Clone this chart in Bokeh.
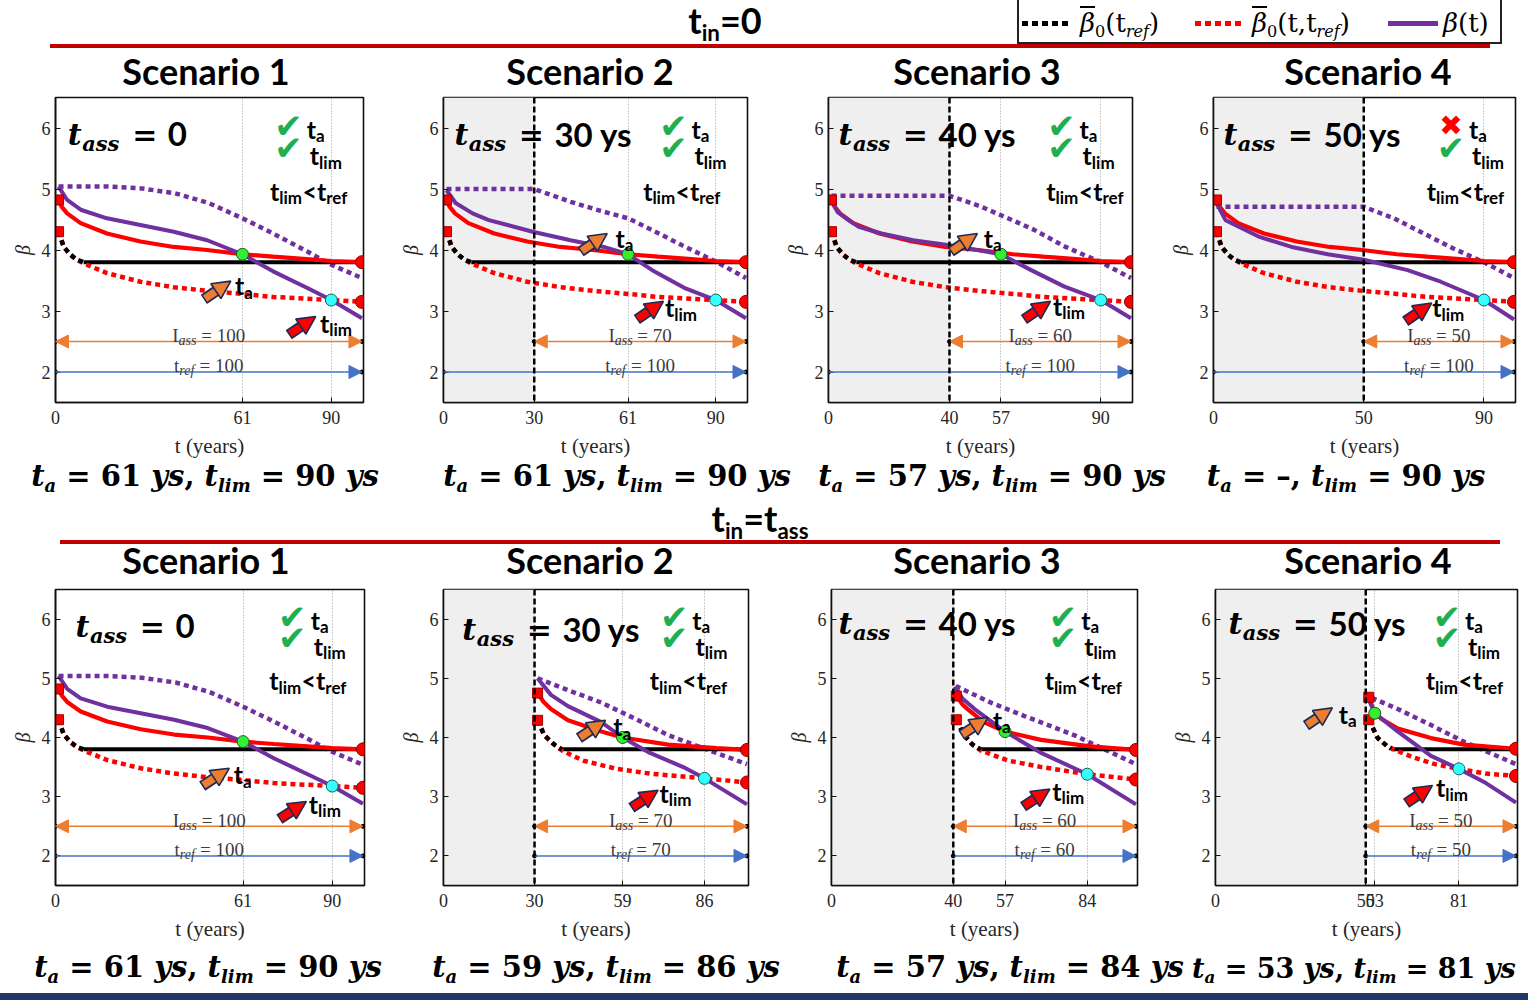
from bokeh.plotting import figure
from bokeh.layouts import row, column
from bokeh.models import Div, Label, Arrow, NormalHead, Span, BoxAnnotation, FixedTicker, Range1d
from bokeh.embed import file_html
from bokeh.resources import INLINE

# ------------------------------------------------------------------ data
scenarios = ["Scenario 1", "Scenario 2", "Scenario 3", "Scenario 4"]
t_ass = [0, 30, 40, 50]
t_end = 100

top_xticks = [[0, 61, 90], [0, 30, 61, 90], [0, 40, 57, 90], [0, 50, 90]]
bot_xticks = [[0, 61, 90], [0, 30, 59, 86], [0, 40, 57, 84], [0, 50, 53, 81]]
y_ticks = [2, 3, 4, 5, 6]

top_ta = [61, 61, 57, None]
top_ta_beta = [3.93, 3.93, 3.93, None]
top_tlim = [90, 90, 90, 90]
top_tlim_beta = [3.18, 3.18, 3.18, 3.18]
top_ta_ok = [True, True, True, False]
bot_ta = [61, 59, 57, 53]
bot_ta_beta = [3.93, 4.00, 4.10, 4.41]
bot_tlim = [90, 86, 84, 81]
bot_tlim_beta = [3.18, 3.31, 3.38, 3.47]

top_I_ass = [100, 70, 60, 50]
top_t_ref = [100, 100, 100, 100]
bot_I_ass = [100, 70, 60, 50]
bot_t_ref = [100, 70, 60, 50]

# top row (t_in = 0): reference curves shared by the four scenarios
top_red_t = [1, 2, 3.8, 8.2, 16.8, 27.7, 38.6, 49.5, 61, 71, 82, 90, 100]
top_red_b = [4.82, 4.71, 4.60, 4.44, 4.27, 4.14, 4.05, 4.00, 3.93, 3.89, 3.85, 3.82, 3.80]
top_blkdot_t = [1, 2.7, 4.9, 7, 9.2]
top_blkdot_b = [4.30, 4.05, 3.92, 3.84, 3.80]
top_blk_t = [9.2, 100]
top_blk_b = [3.80, 3.80]
top_reddot_t = [1, 2.7, 4.9, 7, 9.2, 16.8, 27.7, 38.6, 49.5, 61, 71, 90, 100]
top_reddot_b = [4.30, 4.05, 3.92, 3.84, 3.78, 3.62, 3.48, 3.39, 3.33, 3.28, 3.23, 3.18, 3.15]

top_pur1_t = [1, 3.8, 8.2, 16.8, 27.7, 38.6, 49.5, 61, 71, 82, 90, 100]
top_pur1_b = [5.04, 4.82, 4.66, 4.52, 4.41, 4.30, 4.16, 3.93, 3.65, 3.38, 3.18, 2.88]
top_pur2_t = [1, 4, 9.6, 15, 29.5, 42, 53, 61, 69, 80, 90, 100]
top_pur2_b = [4.98, 4.77, 4.60, 4.49, 4.30, 4.16, 4.05, 3.93, 3.67, 3.37, 3.18, 2.88]
top_pur3_t = [1, 3, 6.6, 10, 17.5, 28, 40, 57, 67, 78, 90, 100]
top_pur3_b = [4.82, 4.62, 4.49, 4.38, 4.27, 4.16, 4.08, 3.93, 3.67, 3.40, 3.18, 2.88]
top_pur4_t = [1, 4, 15, 26, 38, 50, 64.6, 75.6, 90, 100]
top_pur4_b = [4.77, 4.49, 4.22, 4.05, 3.93, 3.84, 3.67, 3.48, 3.18, 2.86]

top_purdot1_t = [1, 10, 17, 28, 39, 50, 61, 71, 82, 89, 100]
top_purdot1_b = [5.04, 5.04, 5.04, 5.01, 4.93, 4.77, 4.52, 4.27, 3.98, 3.78, 3.54]
top_purdot2_t = [1, 30, 42, 52, 61, 70, 80, 90, 100]
top_purdot2_b = [5.00, 5.00, 4.79, 4.64, 4.52, 4.30, 4.05, 3.81, 3.54]
top_purdot3_t = [1, 40, 50, 57, 68, 78, 90, 100]
top_purdot3_b = [4.89, 4.89, 4.72, 4.57, 4.33, 4.06, 3.80, 3.54]
top_purdot4_t = [1, 50, 60, 70, 80, 90, 100]
top_purdot4_b = [4.71, 4.71, 4.52, 4.27, 4.02, 3.80, 3.54]

# bottom row (t_in = t_ass), scenarios 2-4 (scenario 1 equals the top one)
bot2_red_t = [31, 33, 35.4, 41, 52, 59, 74, 90, 100]
bot2_red_b = [4.75, 4.60, 4.48, 4.29, 4.10, 4.00, 3.88, 3.82, 3.79]
bot2_blkdot_t = [31, 33.2, 36.5, 39]
bot2_blkdot_b = [4.29, 4.04, 3.88, 3.80]
bot2_blk_t = [39, 100]
bot2_blk_b = [3.80, 3.80]
bot2_reddot_t = [31, 33.2, 36.5, 39, 46, 57, 68, 86, 100]
bot2_reddot_b = [4.29, 4.04, 3.88, 3.78, 3.61, 3.47, 3.39, 3.31, 3.24]
bot2_pur_t = [31, 35.4, 41, 52, 59, 68, 79, 86, 100]
bot2_pur_b = [5.00, 4.72, 4.53, 4.26, 4.00, 3.74, 3.50, 3.31, 2.87]
bot2_purdot_t = [31, 41, 52, 63, 74, 85, 100]
bot2_purdot_b = [5.00, 4.80, 4.59, 4.32, 4.04, 3.83, 3.55]

bot3_red_t = [41, 43, 44.7, 50, 57, 68.8, 85, 100]
bot3_red_b = [4.70, 4.56, 4.48, 4.26, 4.10, 3.96, 3.85, 3.79]
bot3_blkdot_t = [41, 43.6, 46.3, 49]
bot3_blkdot_b = [4.30, 4.04, 3.88, 3.80]
bot3_blk_t = [49, 100]
bot3_blk_b = [3.80, 3.80]
bot3_reddot_t = [41, 43.6, 46.3, 49, 58, 69, 84, 100]
bot3_reddot_b = [4.30, 4.04, 3.88, 3.78, 3.61, 3.50, 3.38, 3.29]
bot3_pur_t = [40.5, 43, 47, 57, 68.8, 84, 100]
bot3_pur_b = [4.86, 4.66, 4.48, 4.10, 3.74, 3.38, 2.87]
bot3_purdot_t = [40.8, 52.3, 63, 79.7, 100]
bot3_purdot_b = [4.87, 4.59, 4.37, 4.04, 3.55]

bot4_red_t = [51, 52.5, 55, 60.7, 71.7, 82.6, 100]
bot4_red_b = [4.68, 4.48, 4.32, 4.15, 3.99, 3.88, 3.81]
bot4_blkdot_t = [51, 54, 57, 58.5]
bot4_blkdot_b = [4.30, 3.99, 3.86, 3.81]
bot4_blk_t = [58.5, 100]
bot4_blk_b = [3.80, 3.80]
bot4_reddot_t = [51, 54, 57, 59.3, 66, 73, 81, 90, 100]
bot4_reddot_b = [4.30, 3.99, 3.86, 3.80, 3.66, 3.55, 3.47, 3.39, 3.35]
bot4_pur_t = [51, 53, 60.7, 71.7, 81, 90, 100]
bot4_pur_b = [4.64, 4.41, 4.10, 3.69, 3.47, 3.23, 2.90]
bot4_purdot_t = [52, 60.7, 71.7, 82.6, 100]
bot4_purdot_b = [4.67, 4.48, 4.21, 3.93, 3.55]

# ------------------------------------------------------------------ styles
RED = "#ff0000"
PURPLE = "#7030a0"
ORANGE = "#ed7d31"
BLUE = "#4472c4"
NAVY = "#1c2a55"
GREEN = "#1fae50"
DJS = "DejaVu Serif"
LATO = "Lato"
LIB = "Liberation Serif"


def _tab(d, dw):
    t = dict(d)
    for k in "0123456789":
        t[k] = dw
    return t


WID = {
    LATO: (_tab({'t': .37, 'a': .51, 'l': .26, 'i': .26, 'm': .84, 'r': .37, 'e': .52, 'f': .33,
                 '<': .58, ' ': .19, 'y': .52, 's': .42, '=': .58}, .58), .55),
    DJS: (_tab({'t': .48, 'a': .68, 's': .60, ' ': .35, '=': .84, 'y': .65, ',': .38, 'l': .34,
                'i': .34, 'm': 1.04}, .70), .70),
    LIB: (_tab({'I': .333, 'a': .5, 's': .389, 'r': .389, 'e': .444, 'f': .278, 't': .278,
                ' ': .25, '=': .564}, .5), .5),
}


def tw(text, font, size):
    tab, d = WID[font]
    return sum(tab.get(ch, d) for ch in text) * size


def rich(p, x, y, parts, align="left"):
    widths = [tw(t, f, s) for t, f, s, st, dy, col in parts]
    off = -sum(widths) / 2 if align == "center" else 0.0
    for (t, f, s, st, dy, col), w in zip(parts, widths):
        lead = tw(t[:len(t) - len(t.lstrip())], f, s)
        p.add_layout(Label(x=x, y=y, x_offset=off + lead, y_offset=dy, text=t.strip(),
                           text_font=f, text_font_size=f"{s}px", text_font_style=st,
                           text_color=col, text_baseline="alphabetic", text_align="left"))
        off += w


def make_plot(w, h, bl, br, bt, bb, xticks):
    p = figure(width=w, height=h, x_range=Range1d(0, 100.5), y_range=Range1d(1.5, 6.5),
               output_backend="svg", toolbar_location=None,
               min_border_left=bl, min_border_right=br, min_border_top=bt, min_border_bottom=bb)
    p.background_fill_color = "white"
    p.border_fill_color = "white"
    p.outline_line_color = "#111111"
    p.outline_line_width = 1.6
    p.ygrid.visible = False
    p.xgrid.ticker = FixedTicker(ticks=xticks)
    p.xgrid.grid_line_color = "#9a9a9a"
    p.xgrid.grid_line_dash = "1 2"
    p.xgrid.grid_line_width = 1
    p.xaxis.ticker = FixedTicker(ticks=xticks)
    p.yaxis.ticker = FixedTicker(ticks=y_ticks)
    for ax in (p.xaxis[0], p.yaxis[0]):
        ax.major_tick_in = 5
        ax.major_tick_out = 0
        ax.minor_tick_line_color = None
        ax.axis_line_color = "#111111"
        ax.axis_line_width = 1.6
        ax.major_tick_line_color = "#111111"
        ax.major_label_text_font = LIB
        ax.major_label_text_font_size = "18px"
        ax.major_label_text_color = "#262626"
        ax.major_label_standoff = 5
        ax.axis_label_text_font = LIB
        ax.axis_label_text_font_size = "21px"
        ax.axis_label_text_color = "#262626"
        ax.axis_label_text_font_style = "normal"
    p.xaxis.major_label_standoff = 8
    p.xaxis.axis_label = "t (years)"
    p.xaxis.axis_label_standoff = 7
    p.yaxis.axis_label = "β"
    p.yaxis.axis_label_standoff = 5
    p.yaxis.axis_label_text_font_style = "italic"
    p.yaxis.axis_label_text_font_size = "20px"
    return p


def block_arrow(p, t, b, color):
    dt, db = 4.4, 0.15
    x0, y0, x1, y1 = t - dt, b - db, t + dt, b + db
    xm, ym = t + 0.9, b + 0.03
    p.add_layout(Arrow(end=None, x_start=x0, y_start=y0, x_end=xm, y_end=ym,
                       line_color=NAVY, line_width=11))
    p.add_layout(Arrow(end=None, x_start=x0 + 0.4, y_start=y0 + 0.014, x_end=xm, y_end=ym,
                       line_color=color, line_width=7.5))
    p.add_layout(Arrow(end=NormalHead(size=18, fill_color=color, line_color=NAVY, line_width=1.6),
                       x_start=x0, y_start=y0, x_end=x1, y_end=y1, line_alpha=0))


def draw_panel(p, s, ann):
    ta_s = s["tass"]
    if ta_s > 0:
        p.add_layout(BoxAnnotation(left=0, right=ta_s, fill_color="#efefef", fill_alpha=1,
                                   line_color=None, level="underlay"))
    # curves
    p.line(*s["purdot"], line_color=PURPLE, line_width=4.5, line_dash="5 4")
    p.line(*s["blk"], line_color="black", line_width=4)
    p.line(*s["reddot"], line_color=RED, line_width=4.5, line_dash="5 4")
    p.line(*s["blkdot"], line_color="black", line_width=4.5, line_dash="5 4")
    p.line(*s["red"], line_color=RED, line_width=4.2)
    p.line(*s["pur"], line_color=PURPLE, line_width=4)
    # end markers
    rt, rb = s["red"]
    kt, kb = s["blkdot"]
    dt_, db_ = s["reddot"]
    p.scatter([rt[0], kt[0]], [rb[0], kb[0]], marker="square", size=10,
              fill_color=RED, line_color="#a00000")
    p.scatter([rt[-1], dt_[-1]], [rb[-1], db_[-1]], marker="circle", size=13,
              fill_color=RED, line_color="#8b0000")
    if s["ta"] is not None:
        p.scatter([s["ta"]], [s["ta_b"]], marker="circle", size=12,
                  fill_color="#33ee33", line_color="#1a5e1a")
    p.scatter([s["tlim"]], [s["tlim_b"]], marker="circle", size=12,
              fill_color="#33ffff", line_color="#1a5e5e")

    # interval arrows
    p.add_layout(Arrow(start=NormalHead(size=13, fill_color=ORANGE, line_color=ORANGE),
                       end=NormalHead(size=13, fill_color=ORANGE, line_color=ORANGE),
                       x_start=ta_s, y_start=2.5, x_end=t_end, y_end=2.5,
                       line_color=ORANGE, line_width=1.5))
    p.add_layout(Arrow(end=NormalHead(size=13, fill_color=BLUE, line_color=BLUE),
                       x_start=s["tref_start"], y_start=2, x_end=t_end, y_end=2,
                       line_color=BLUE, line_width=1.5))
    p.scatter([ta_s, t_end, s["tref_start"], t_end], [2.5, 2.5, 2, 2], size=4,
              color="black")
    mid = (ta_s + t_end) / 2
    gray = "#3c3c3c"
    rich(p, mid, 2.6, [("I", LIB, 19, "normal", 0, gray), ("ass", LIB, 14, "italic", -5, gray),
                       (f" = {s['I']}", LIB, 19, "normal", 0, gray)], align="center")
    rich(p, mid, 2.1, [("t", LIB, 19, "normal", 0, gray), ("ref", LIB, 14, "italic", -5, gray),
                       (f" = {s['tref']}", LIB, 19, "normal", 0, gray)], align="center")

    # t_ass label
    lx, ly = ann["tass_lbl"]
    parts = [("t", DJS, 30, "bold italic", 0, "black"), ("ass", DJS, 21, "bold italic", -9, "black"),
             (" = ", DJS, 30, "bold", 0, "black")]
    parts.append((("0" if ta_s == 0 else f"{ta_s} ys"), LATO, 33, "bold", 0, "black"))
    rich(p, lx, ly, parts)
    if ta_s > 0:
        p.add_layout(Span(location=ta_s, dimension="height", line_color="black",
                          line_dash="6 3", line_width=2.5))

    # check marks
    ct = ann["check_t"]
    if s["ok"]:
        mark, mcol, msize = "✔", GREEN, "34px"
    else:
        mark, mcol, msize = "✖", RED, "28px"
    p.add_layout(Label(x=ct, y=6.04, text=mark, text_font="DejaVu Sans", text_font_size=msize,
                       text_color=mcol, text_align="center", text_baseline="middle"))
    p.add_layout(Label(x=ct, y=5.68, text="✔", text_font="DejaVu Sans", text_font_size="34px",
                       text_color=GREEN, text_align="center", text_baseline="middle"))
    rich(p, ct + 6, 5.99, [("t", LATO, 25, "bold", 0, "black"), ("a", LATO, 17, "bold", -7, "black")])
    rich(p, ct + 7, 5.55, [("t", LATO, 25, "bold", 0, "black"), ("lim", LATO, 17, "bold", -7, "black")])
    rich(p, ann["lt"], 4.97, [("t", LATO, 25, "bold", 0, "black"), ("lim", LATO, 17, "bold", -7, "black"),
                              ("<t", LATO, 25, "bold", 0, "black"), ("ref", LATO, 17, "bold", -7, "black")])

    # pointer arrows and labels
    if ann["ta_arrow"] is not None:
        block_arrow(p, *ann["ta_arrow"], ORANGE)
        rich(p, *ann["ta_lbl"], [("t", LATO, 25, "bold", 0, "black"), ("a", LATO, 17, "bold", -7, "black")])
    block_arrow(p, *ann["tl_arrow"], RED)
    rich(p, *ann["tl_lbl"], [("t", LATO, 25, "bold", 0, "black"), ("lim", LATO, 17, "bold", -7, "black")])


top_pur = [(top_pur1_t, top_pur1_b), (top_pur2_t, top_pur2_b), (top_pur3_t, top_pur3_b), (top_pur4_t, top_pur4_b)]
top_purdot = [(top_purdot1_t, top_purdot1_b), (top_purdot2_t, top_purdot2_b),
              (top_purdot3_t, top_purdot3_b), (top_purdot4_t, top_purdot4_b)]

top_specs = []
for i in range(4):
    top_specs.append(dict(tass=t_ass[i], red=(top_red_t, top_red_b), blkdot=(top_blkdot_t, top_blkdot_b),
                          blk=(top_blk_t, top_blk_b), reddot=(top_reddot_t, top_reddot_b),
                          pur=top_pur[i], purdot=top_purdot[i], ta=top_ta[i], ta_b=top_ta_beta[i],
                          tlim=top_tlim[i], tlim_b=top_tlim_beta[i], tref_start=0,
                          I=top_I_ass[i], tref=top_t_ref[i], ok=top_ta_ok[i]))

bot_curves = [
    dict(red=(top_red_t, top_red_b), blkdot=(top_blkdot_t, top_blkdot_b), blk=(top_blk_t, top_blk_b),
         reddot=(top_reddot_t, top_reddot_b), pur=top_pur[0], purdot=top_purdot[0]),
    dict(red=(bot2_red_t, bot2_red_b), blkdot=(bot2_blkdot_t, bot2_blkdot_b), blk=(bot2_blk_t, bot2_blk_b),
         reddot=(bot2_reddot_t, bot2_reddot_b), pur=(bot2_pur_t, bot2_pur_b), purdot=(bot2_purdot_t, bot2_purdot_b)),
    dict(red=(bot3_red_t, bot3_red_b), blkdot=(bot3_blkdot_t, bot3_blkdot_b), blk=(bot3_blk_t, bot3_blk_b),
         reddot=(bot3_reddot_t, bot3_reddot_b), pur=(bot3_pur_t, bot3_pur_b), purdot=(bot3_purdot_t, bot3_purdot_b)),
    dict(red=(bot4_red_t, bot4_red_b), blkdot=(bot4_blkdot_t, bot4_blkdot_b), blk=(bot4_blk_t, bot4_blk_b),
         reddot=(bot4_reddot_t, bot4_reddot_b), pur=(bot4_pur_t, bot4_pur_b), purdot=(bot4_purdot_t, bot4_purdot_b)),
]
bot_specs = []
for i in range(4):
    d = dict(bot_curves[i])
    d.update(tass=t_ass[i], ta=bot_ta[i], ta_b=bot_ta_beta[i], tlim=bot_tlim[i], tlim_b=bot_tlim_beta[i],
             tref_start=t_ass[i], I=bot_I_ass[i], tref=bot_t_ref[i], ok=True)
    bot_specs.append(d)

TOP_ANN = [
    dict(tass_lbl=(4, 5.9), check_t=76, lt=70, ta_arrow=(52.8, 3.34), ta_lbl=(58.6, 3.42), tl_arrow=(80.5, 2.76), tl_lbl=(86.3, 2.81)),
    dict(tass_lbl=(3.6, 5.9), check_t=76, lt=66, ta_arrow=(49.7, 4.12), ta_lbl=(56.9, 4.2), tl_arrow=(68.3, 3.01), tl_lbl=(73.2, 3.06)),
    dict(tass_lbl=(3.3, 5.9), check_t=77, lt=72, ta_arrow=(44.8, 4.12), ta_lbl=(51.3, 4.2), tl_arrow=(69, 3.01), tl_lbl=(74.2, 3.09)),
    dict(tass_lbl=(3.3, 5.9), check_t=79, lt=71, ta_arrow=None, ta_lbl=None, tl_arrow=(68.2, 2.98), tl_lbl=(72.8, 3.06)),
]
BOT_ANN = [
    dict(tass_lbl=(6.5, 5.88), check_t=77, lt=69.5, ta_arrow=(52.1, 3.33), ta_lbl=(58, 3.38), tl_arrow=(77.2, 2.77), tl_lbl=(82.4, 2.88)),
    dict(tass_lbl=(6.2, 5.83), check_t=76, lt=68, ta_arrow=(49, 4.14), ta_lbl=(55.9, 4.19), tl_arrow=(66.3, 2.96), tl_lbl=(71.2, 3.07)),
    dict(tass_lbl=(2.3, 5.93), check_t=76, lt=70, ta_arrow=(47, 4.19), ta_lbl=(53, 4.3), tl_arrow=(67.3, 2.98), tl_lbl=(72.5, 3.1)),
    dict(tass_lbl=(4.3, 5.93), check_t=77, lt=70, ta_arrow=(34.5, 4.35), ta_lbl=(41, 4.4), tl_arrow=(67.8, 3.04), tl_lbl=(73.4, 3.16)),
]

# (width, border left, right, top, bottom)
TOP_H = 370
TOP_GEOM = [(396, 55, 33, 7, 58), (385, 45, 34, 7, 58), (385, 45, 34, 7, 58), (362, 44, 13, 7, 58)]
BOT_H = 372
BOT_GEOM = [(396, 55, 32, 2, 65), (386, 46, 34, 9, 58), (386, 49, 31, 9, 58), (360, 44, 11, 11, 56)]

top_figs = []
for i in range(4):
    w, bl, br, bt, bb = TOP_GEOM[i]
    p = make_plot(w, TOP_H, bl, br, bt, bb, top_xticks[i])
    draw_panel(p, top_specs[i], TOP_ANN[i])
    top_figs.append(p)

bot_figs = []
for i in range(4):
    w, bl, br, bt, bb = BOT_GEOM[i]
    p = make_plot(w, BOT_H, bl, br, bt, bb, bot_xticks[i])
    draw_panel(p, bot_specs[i], BOT_ANN[i])
    bot_figs.append(p)

# ------------------------------------------------------------------ html bands
SUB = '<sub style="font-size:0.62em;vertical-align:-0.32em;line-height:0">'
BAR = '<i style="text-decoration:overline;">β</i>'


def atext(x, top, html, size, family=LATO, weight=700, style="normal", align="center", color="#000"):
    if align == "center":
        pos = f"left:{x - 400}px;width:800px;text-align:center;"
    else:
        pos = f"left:{x}px;"
    return (f'<div style="position:absolute;{pos}top:{top}px;white-space:nowrap;line-height:1;'
            f"font-family:'{family}';font-size:{size}px;font-weight:{weight};font-style:{style};"
            f'color:{color};">{html}</div>')


def rect(left, top, w, h, bg, extra=""):
    return f'<div style="position:absolute;left:{left}px;top:{top}px;width:{w}px;height:{h}px;background:{bg};{extra}"></div>'


def dots(left, top, color):
    return rect(left, top, 50, 5, f"repeating-linear-gradient(90deg,{color} 0px,{color} 6px,transparent 6px,transparent 10px)")


def band(w, h, items):
    html = (f'<div style="position:relative;width:{w}px;height:{h}px;">'
            + "".join(items) + "</div>")
    return Div(text=html, width=w, height=h, margin=0, styles={"overflow": "visible"})


def caption(ta, tlim):
    a = f"{ta} <i>ys</i>" if ta is not None else "–"
    return f"<i>t</i>{SUB}<i>a</i></sub> = {a}, <i>t</i>{SUB}<i>lim</i></sub> = {tlim} <i>ys</i>"


TITLE_X = [206, 590, 977, 1368]

b1 = [
    atext(725, 2, f"t{SUB}in</sub>=0", 36),
    rect(1017, 0, 485, 44, "#fff", "box-sizing:border-box;border:2px solid #222;border-top:none;"),
    dots(1022, 21, "#000"),
    atext(1080, 10, f"{BAR}{SUB}0</sub>(t{SUB}<i>ref</i></sub>)", 26, family=DJS, weight=400, align="left"),
    dots(1195, 21, "#ff0000"),
    atext(1252, 10, f"{BAR}{SUB}0</sub>(t,t{SUB}<i>ref</i></sub>)", 26, family=DJS, weight=400, align="left"),
    rect(1388, 21, 50, 5, PURPLE),
    atext(1443, 10, "<i>β</i>(t)", 26, family=DJS, weight=400, align="left"),
    rect(50, 44, 1440, 4, "#c00000"),
]
for i in range(4):
    b1.append(atext(TITLE_X[i], 53, scenarios[i], 36))
band1 = band(1528, 90, b1)

CAP1_X = [205, 617, 992, 1346]
b2 = []
for i in range(4):
    b2.append(atext(CAP1_X[i], 2, caption(top_ta[i], top_tlim[i]), 29, family=DJS))
b2.append(atext(760, 40, f"t{SUB}in</sub>=t{SUB}ass</sub>", 36))
b2.append(rect(60, 80, 1440, 4, "#c00000"))
for i in range(4):
    b2.append(atext(TITLE_X[i], 82, scenarios[i], 36))
band2 = band(1528, 118, b2)

CAP2_X = [208, 606, 1010]
b3 = []
for i in range(3):
    b3.append(atext(CAP2_X[i], 3, caption(bot_ta[i], bot_tlim[i]), 29, family=DJS))
b3.append(atext(1192, 5, caption(bot_ta[3], bot_tlim[3]), 27, family=DJS, align="left"))
b3.append(rect(0, 43, 1528, 7, "#1f3864"))
band3 = band(1528, 50, b3)

layout = column(band1, row(*top_figs, spacing=0), band2, row(*bot_figs, spacing=0), band3, spacing=0)

open("out.html", "w").write(file_html(layout, INLINE))
